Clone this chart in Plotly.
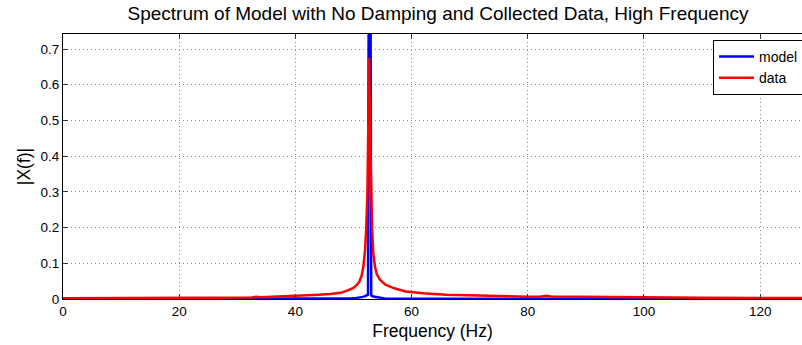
import plotly.graph_objects as go

# ---- data ----
freq_data = [0, 5, 10, 15, 20, 25, 30, 32.5, 33.2, 34, 36, 38, 40, 42, 44, 46, 47, 48, 49, 50, 50.5, 51, 51.4,
             51.7, 52.0, 52.2, 52.4, 52.55, 52.7, 52.85, 53.0, 53.2, 53.4, 53.7, 54.0, 54.6, 55.5, 57, 59, 62,
             66, 70, 75, 80, 82, 83.2, 84, 90, 100, 110, 120, 128]
mag_data = [0.002, 0.002, 0.002, 0.0025, 0.003, 0.003, 0.004, 0.004, 0.006, 0.005, 0.006, 0.007, 0.008, 0.010,
            0.012, 0.014, 0.016, 0.018, 0.024, 0.031, 0.038, 0.048, 0.065, 0.09, 0.14, 0.2, 0.3, 0.47, 0.675,
            0.47, 0.3, 0.2, 0.13, 0.09, 0.07, 0.053, 0.04, 0.03, 0.021, 0.016, 0.012, 0.010, 0.008, 0.0065,
            0.0065, 0.009, 0.007, 0.006, 0.004, 0.0035, 0.003, 0.003]

freq_model = [0, 10, 20, 30, 40, 45, 49.4, 50.5, 51.1, 51.6, 52.0, 52.5, 52.78, 53.05, 53.4, 54.0, 54.6, 55.4,
              60, 70, 80, 90, 100, 110, 120, 128]
mag_model = [0.0005, 0.0005, 0.0005, 0.0006, 0.0008, 0.001, 0.0015, 0.003, 0.004, 0.006, 0.008, 0.012, 2.0,
             0.01, 0.007, 0.005, 0.003, 0.0015, 0.001, 0.0008, 0.0007, 0.0006, 0.0005, 0.0005, 0.0005, 0.0005]

x_ticks = [0, 20, 40, 60, 80, 100, 120]
y_ticks = [0, 0.1, 0.2, 0.3, 0.4, 0.5, 0.6, 0.7]

FONT = "Liberation Sans, Arial, sans-serif"

fig = go.Figure()
fig.add_trace(go.Scatter(x=freq_model, y=mag_model, mode="lines", name="model",
                         line=dict(color="#0000ff", width=2.5)))
fig.add_trace(go.Scatter(x=freq_data, y=mag_data, mode="lines", name="data",
                         line=dict(color="#ff0000", width=2.5)))

fig.update_layout(
    width=802, height=345,
    margin=dict(l=63, r=0, t=34, b=46, autoexpand=False),
    paper_bgcolor="white", plot_bgcolor="white",
    font=dict(family=FONT, color="black", size=13.5),
    title=dict(text="Spectrum of Model with No Damping and Collected Data, High Frequency",
               x=438 / 802, xanchor="center", xref="container", y=1 - 13 / 345, yanchor="middle",
               yref="container", font=dict(size=19, family=FONT, color="black")),
    showlegend=True,
    legend=dict(x=(713 - 63) / 739, xanchor="left", y=1 - 6 / 265, yanchor="top", bgcolor="white",
                bordercolor="black", borderwidth=1, font=dict(size=14, family=FONT),
                tracegroupgap=0, itemwidth=35, traceorder="normal"),
)
fig.update_xaxes(
    range=[0, 127.2], tickvals=x_ticks, ticktext=[str(v) for v in x_ticks],
    showline=True, linecolor="black", linewidth=1, mirror="ticks",
    ticks="inside", ticklen=5, tickcolor="#333333",
    showgrid=True, gridcolor="#8c8c8c", gridwidth=1, griddash="1px,3px",
    zeroline=False, automargin=False,
    title=dict(text="Frequency (Hz)", font=dict(size=17.5, family=FONT), standoff=6),
    tickfont=dict(size=13.5, family=FONT),
)
fig.update_yaxes(
    range=[0, 0.742], tickvals=y_ticks, ticktext=["0", "0.1", "0.2", "0.3", "0.4", "0.5", "0.6", "0.7"],
    showline=True, linecolor="black", linewidth=1, mirror=False,
    ticks="inside", ticklen=5, tickcolor="#333333",
    showgrid=True, gridcolor="#8c8c8c", gridwidth=1, griddash="1px,3px",
    zeroline=False, automargin=False,
    title=dict(text="|X(f)|", font=dict(size=17.5, family=FONT), standoff=5),
    tickfont=dict(size=13.5, family=FONT),
)

fig.write_html("out.html", config={"displayModeBar": False},
               post_script="document.body.style.margin='0';")
